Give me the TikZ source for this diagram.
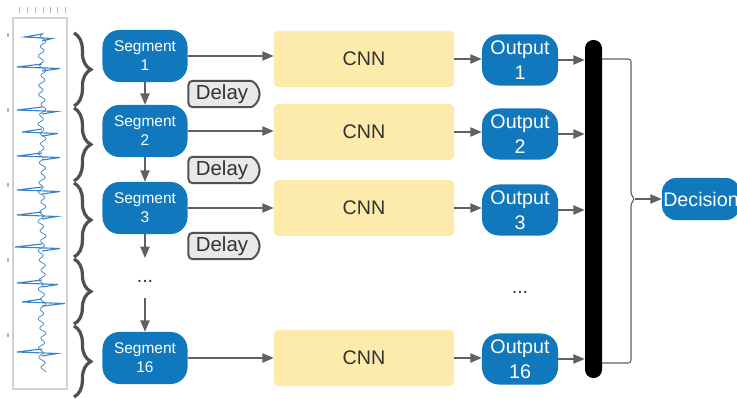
\documentclass[tikz,border=0pt]{standalone}
\usepackage{fontspec}
\setmainfont{Liberation Sans}
\usepackage{tikz}
\usetikzlibrary{arrows.meta, shapes.misc, decorations.pathreplacing, positioning}

\definecolor{segblue}{RGB}{17,120,190}
\definecolor{cnnyellow}{RGB}{253,235,172}
\definecolor{arrgray}{RGB}{96,96,96}
\definecolor{bracegray}{RGB}{80,80,80}
\definecolor{delayfill}{RGB}{232,232,232}
\definecolor{sigblue}{RGB}{55,130,200}
\definecolor{txtgray}{RGB}{50,50,50}

\tikzset{
    blob/.style={fill=segblue, text=white, rounded corners=12pt, align=center, inner sep=0pt},
    segbox/.style={blob, minimum width=2.125cm, minimum height=1.3cm, font=\fontsize{11}{13.5}\selectfont},
    outbox/.style={blob, minimum width=1.9cm, minimum height=1.275cm, font=\fontsize{14}{17.5}\selectfont},
    cnnbox/.style={fill=cnnyellow, rounded corners=3pt, minimum width=4.5cm, minimum height=1.4cm, text=txtgray, font=\fontsize{14}{17}\selectfont},
    delaybox/.style={rounded rectangle, rounded rectangle left arc=none, rounded corners=3pt, draw=bracegray, line width=1.4pt, fill=delayfill, minimum width=1.78cm, minimum height=0.66cm, inner sep=0pt, text=txtgray, font=\fontsize{14.5}{17}\selectfont},
    arr/.style={draw=arrgray, line width=1pt, -{Triangle[length=8pt,width=6.5pt]}},
    curly/.style={draw=bracegray, line width=2.3pt, decorate, decoration={brace, amplitude=0.42cm}},
}

\begin{document}
\begin{tikzpicture}[x=0.025cm, y=-0.025cm]

    \useasboundingbox (0,0) rectangle (737,399);

    % signal strip
    \draw[gray!35, line width=1pt] (13,18) rectangle (67,389);
    \foreach \t in {19,27,35,43,50,57,65} \draw[gray!55, line width=0.6pt] (\t,7) -- (\t,13);
    \foreach \t in {35,110,185,260,335} \draw[gray!60, line width=0.8pt] (8,\t-2) -- (8,\t+2);
    \draw[sigblue, line width=0.5pt] plot[domain=33:372, samples=400] ({42+2.5*sin(\x*37)+1.5*sin(\x*11)}, \x);
    \foreach \c/\l/\r in {37/25/52, 67/17/60, 110/17/57, 132/22/58, 156/17/60, 190/17/60, 215/17/57, 247/15/60, 283/17/58, 302/22/65, 352/17/57}
        \draw[sigblue, line width=0.8pt] (42,\c-3) -- (\l,\c) -- (\r,\c+1.5) -- (42,\c+4);

    % braces
    \draw[curly] (74,33) -- (74,106);
    \draw[curly] (74,108) -- (74,181);
    \draw[curly] (74,183) -- (74,257);
    \draw[curly] (74,259) -- (74,324);
    \draw[curly] (74,326) -- (74,397);

    % segments
    \node[segbox] (seg1) at (145,56) {Segment\\1};
    \node[segbox] (seg2) at (145,131) {Segment\\2};
    \node[segbox] (seg3) at (145,208) {Segment\\3};
    \node[text=txtgray, font=\fontsize{14}{17}\selectfont] (segdots) at (145,281) {...};
    \node[segbox] (seg16) at (145,358) {Segment\\16};
    \coordinate (gapA) at (145,258);
    \coordinate (gapB) at (145,298);

    \node[delaybox] (delay1) at (222,94) {Delay};
    \node[delaybox] (delay2) at (222,170) {Delay};
    \node[delaybox] (delay3) at (222,246) {Delay};

    % CNNs and outputs
    \node[cnnbox] (cnn1) at (364,59) {CNN};
    \node[cnnbox] (cnn2) at (364,132) {CNN};
    \node[cnnbox] (cnn3) at (364,208) {CNN};
    \node[cnnbox] (cnn16) at (364,358) {CNN};

    \node[outbox] (out1) at (520,60) {Output\\1};
    \node[outbox] (out2) at (520,134) {Output\\2};
    \node[outbox] (out3) at (520,210) {Output\\3};
    \node[text=txtgray, font=\fontsize{14}{17}\selectfont] (outdots) at (520,292) {...};
    \node[outbox] (out16) at (520,359) {Output\\16};

    \node[fill=black, rounded corners=6pt, minimum width=0.425cm, minimum height=8.45cm, inner sep=0pt] (bar) at (593.5,209) {};
    \node[blob, minimum width=1.95cm, minimum height=1.05cm, rounded corners=10pt, font=\fontsize{14}{17}\selectfont] (decision) at (701,199) {Decision};

    % vertical chain
    \draw[arr] (seg1.south) -- (seg2.north);
    \draw[arr] (seg2.south) -- (seg3.north);
    \draw[arr] (seg3.south) -- (gapA);
    \draw[arr] (gapB) -- (seg16.north);

    % rows
    \draw[arr] (seg1.east) -- (seg1.east -| cnn1.west);
    \draw[arr] (seg2.east) -- (seg2.east -| cnn2.west);
    \draw[arr] (seg3.east) -- (seg3.east -| cnn3.west);
    \draw[arr] (seg16.east) -- (seg16.east -| cnn16.west);

    \draw[arr] (cnn1.east) -- (cnn1.east -| out1.west);
    \draw[arr] (cnn2.east) -- (cnn2.east -| out2.west);
    \draw[arr] (cnn3.east) -- (cnn3.east -| out3.west);
    \draw[arr] (cnn16.east) -- (cnn16.east -| out16.west);

    \draw[arr] (out1.east) -- (out1.east -| bar.west);
    \draw[arr] (out2.east) -- (out2.east -| bar.west);
    \draw[arr] (out3.east) -- (out3.east -| bar.west);
    \draw[arr] (out16.east) -- (out16.east -| bar.west);

    % bracket to decision
    \coordinate (brtop) at (602,59);
    \coordinate (brbot) at (602,363);
    \coordinate (tip) at (635,199);
    \draw[arrgray, line width=0.8pt, rounded corners=2pt] (brtop) -- (631,59) -- (631,195) -- (tip) -- (631,203) -- (631,363) -- (brbot);
    \draw[arr] (tip) -- (decision.west);

\end{tikzpicture}
\end{document}
